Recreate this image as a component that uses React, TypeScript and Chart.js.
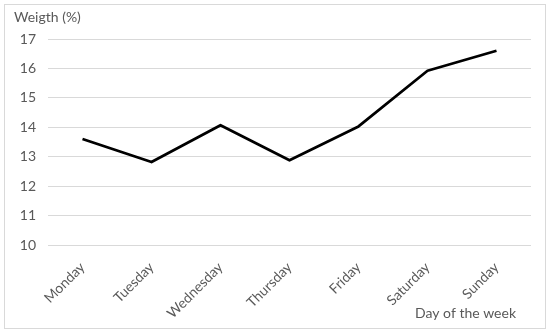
import React, { useEffect, useRef } from "react";
import { Chart, registerables } from "chart.js";

Chart.register(...registerables);

const days = ["Monday", "Tuesday", "Wednesday", "Thursday", "Friday", "Saturday", "Sunday"];
const weight = [13.6, 12.82, 14.07, 12.88, 14.03, 15.92, 16.6];
const yTitle = "Weigth (%)";
const xTitle = "Day of the week";

const FONT = "Lato, 'Open Sans', sans-serif";
const TEXT = "#595959";

const framePlugin = {
  id: "frame",
  beforeDraw(chart: any) {
    const { ctx, width, height } = chart;
    ctx.save();
    ctx.fillStyle = "#ffffff";
    ctx.fillRect(0, 0, width, height);
    ctx.strokeStyle = "#d9d9d9";
    ctx.lineWidth = 1;
    ctx.strokeRect(4.5, 4.5, width - 9, height - 9);
    ctx.restore();
  },
  afterDraw(chart: any) {
    const { ctx, chartArea } = chart;
    ctx.save();
    ctx.fillStyle = TEXT;
    ctx.font = `14px ${FONT}`;
    ctx.textAlign = "right";
    ctx.textBaseline = "alphabetic";
    ctx.fillText(xTitle, chartArea.right - 15, chartArea.bottom + 73);
    ctx.restore();
  },
};

export default function App() {
  const ref = useRef<HTMLCanvasElement | null>(null);
  useEffect(() => {
    if (!ref.current) return;
    const chart = new Chart(ref.current, {
      type: "line",
      data: {
        labels: days,
        datasets: [
          {
            data: weight,
            borderColor: "#000000",
            borderWidth: 2.75,
            pointRadius: 0,
            tension: 0,
            fill: false,
            borderJoinStyle: "round",
          },
        ],
      },
      plugins: [framePlugin],
      options: {
        animation: false,
        responsive: false,
        layout: { padding: { left: 14, right: 19, top: 0, bottom: 0 } },
        plugins: {
          legend: { display: false },
          tooltip: { enabled: false },
          title: {
            display: true,
            text: yTitle,
            align: "start",
            color: TEXT,
            font: { family: FONT, size: 14, weight: "normal" },
            padding: { top: 9, bottom: 13.2 },
          },
        },
        scales: {
          x: {
            offset: true,
            grid: { display: false },
            border: { display: false },
            ticks: {
              color: TEXT,
              font: { family: FONT, size: 14 },
              minRotation: 45,
              maxRotation: 45,
              padding: 6,
            },
            afterFit: (s: any) => {
              s.height = 88;
            },
          },
          y: {
            min: 10,
            max: 17,
            grid: { color: "#d9d9d9", lineWidth: 1, drawTicks: false },
            border: { display: false },
            ticks: {
              stepSize: 1,
              color: TEXT,
              font: { family: FONT, size: 14 },
              padding: 12,
            },
            afterFit: (s: any) => {
              s.width = 34;
            },
          },
        },
      },
    });
    return () => chart.destroy();
  }, []);
  return (
    <div style={{ position: "fixed", left: 0, top: 0, width: 550, height: 333, background: "#fff" }}>
      <canvas ref={ref} width={550} height={333} style={{ display: "block", width: 550, height: 333 }} />
    </div>
  );
}
